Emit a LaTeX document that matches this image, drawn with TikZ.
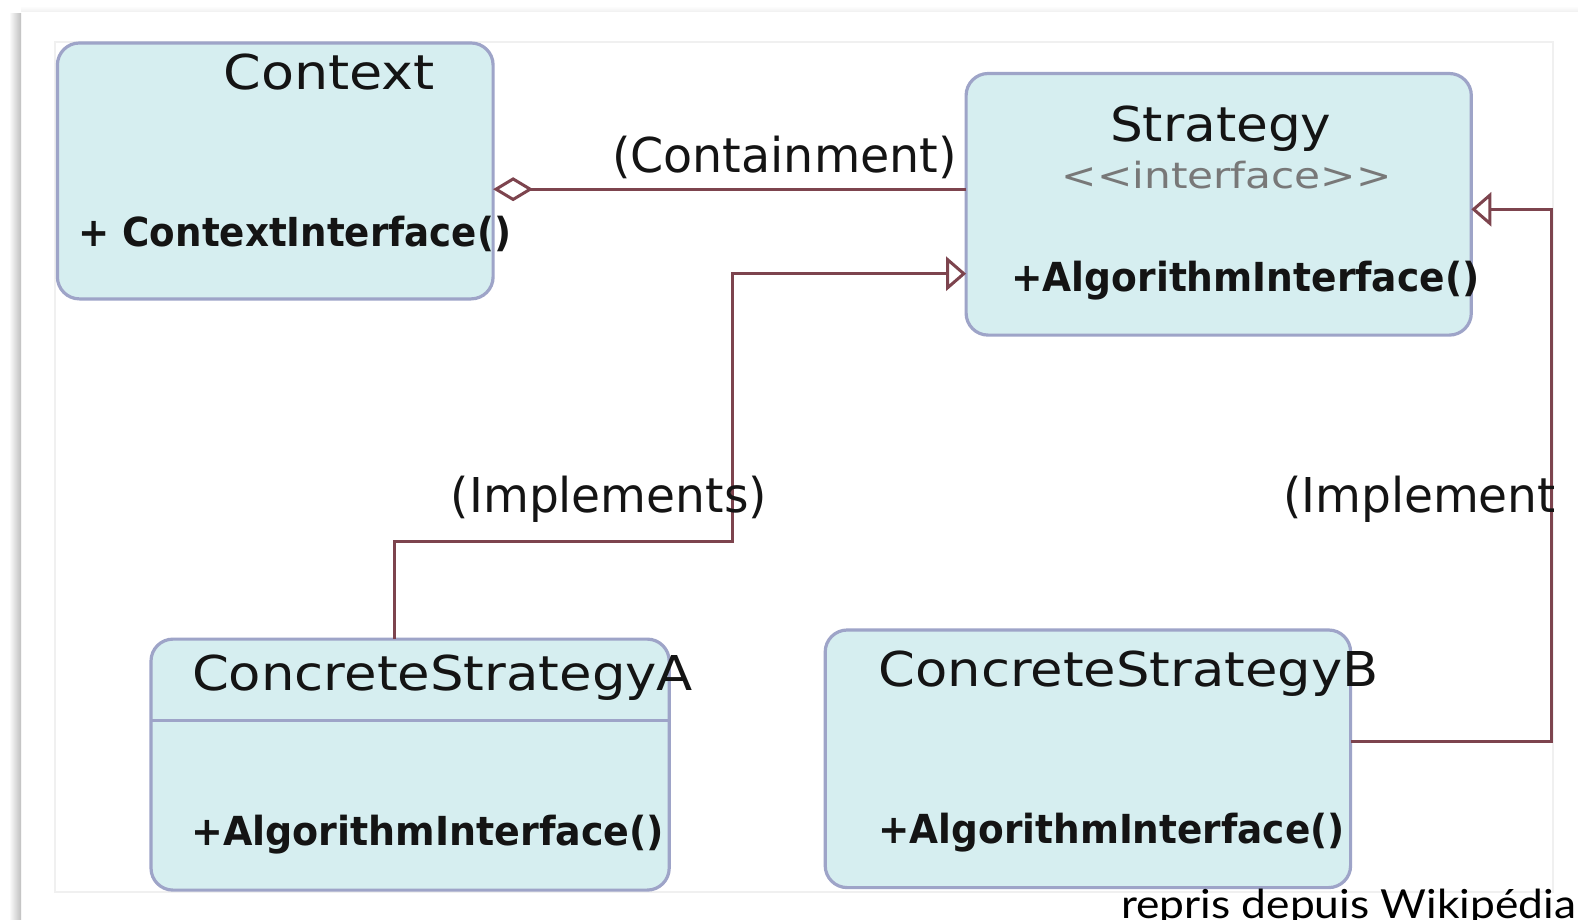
\documentclass[tikz,border=0pt]{standalone}
\usepackage{fontspec}
\setmainfont{DejaVu Sans}
\newfontfamily\latofont{Lato}
\usetikzlibrary{arrows.meta}
\definecolor{boxfill}{RGB}{214,238,240}
\definecolor{boxline}{RGB}{158,164,200}
\definecolor{conn}{RGB}{125,68,78}
\definecolor{stereo}{RGB}{120,120,120}
\definecolor{ink}{RGB}{20,20,20}
\newcommand{\fitw}[2]{\resizebox{#1pt}{\height}{#2}}
\newcommand{\fname}{\fontsize{48}{50}\selectfont}
\newcommand{\fmeth}{\fontsize{40}{44}\selectfont\bfseries}
\begin{document}
\begin{tikzpicture}[x=1pt,y=-1pt,
  classbox/.style={draw=boxline, fill=boxfill, line width=3.2pt, rounded corners=22pt,
    inner sep=0pt, outer sep=0pt, anchor=north west},
  txt/.style={inner sep=0pt, outer sep=0pt, anchor=base west, text=ink},
  sepline/.style={draw=boxline, line width=2.5pt},
  impl/.style={draw=conn, line width=3pt, -{Triangle[open, length=20pt, width=34pt]}},
  contain/.style={draw=conn, line width=3pt, -{Diamond[open, length=40pt, width=24pt]}},
  frameline/.style={draw=gray!12, line width=1.2pt}
]
\useasboundingbox (0,0) rectangle (1578,920);
\fill[white] (0,0) rectangle (1578,920);
% page shadow
\shade[left color=white, right color=gray!50] (9,14) rectangle (21,920);
\shade[top color=white, bottom color=gray!12] (21,6) rectangle (1578,12);
\draw[frameline] (55,42) rectangle (1553,892);

\begin{scope}
\clip (55,42) rectangle (1553,892);
% classes
\node[classbox, minimum width=435.7pt, minimum height=255.9pt] (ctx) at (57.4,43) {};
\node[classbox, minimum width=505.2pt, minimum height=261.6pt] (strat) at (966.1,73.5) {};
\node[classbox, minimum width=518.2pt, minimum height=251pt] (csa) at (151,639.1) {};
\node[classbox, minimum width=525.4pt, minimum height=257.6pt] (csb) at (825.2,630) {};
\draw[sepline] ([yshift=-81.5pt]csa.north west) -- ([yshift=-81.5pt]csa.north east);

% bend points
\coordinate (kA) at (732.6,541.4);
\coordinate (kB) at (1551.5,209.3);

% connectors
\draw[contain] ([yshift=15.1pt]strat.west) -- ([yshift=-18.25pt]ctx.east);
\draw[impl] ([xshift=-15.6pt]csa.north) |- (kA) |- ([yshift=-69.4pt]strat.west);
\draw[impl] ([yshift=17.1pt]csb.east) -| (kB) -- ([yshift=-5pt]strat.east);

% texts
\node[txt] (tctx) at (223.4,90) {\fname\fitw{211.4}{Context}};
\node[txt] (mctx) at (78.5,246) {\fmeth\fitw{432.7}{+ ContextInterface()}};
\node[txt] (lcont) at (612,173) {\fname\fitw{345}{(Containment)}};
\node[txt] (tstrat) at (1110,142) {\fname\fitw{221.4}{Strategy}};
\node[txt, text=stereo] (sstrat) at (1061.7,189) {\fontsize{36}{40}\selectfont\fitw{330}{<{}<interface>{}>}};
\node[txt] (mstrat) at (1011.4,291.7) {\fmeth\fitw{468}{+AlgorithmInterface()}};
\node[txt] (limplA) at (450.9,512) {\fname\fitw{316}{(Implements)}};
\node[txt] (limplB) at (1283.1,512) {\fname\fitw{316}{(Implements)}};
\node[txt] (tcsa) at (192,690) {\fname\fitw{501}{ConcreteStrategyA}};
\node[txt] (mcsa) at (191.2,845) {\fmeth\fitw{473}{+AlgorithmInterface()}};
\node[txt] (tcsb) at (878.6,686) {\fname\fitw{500}{ConcreteStrategyB}};
\node[txt] (mcsb) at (878.6,843) {\fmeth\fitw{466}{+AlgorithmInterface()}};
\end{scope}

\begin{scope}
\clip (0,0) rectangle (1578,920);
\node[txt, text=black] (credit) at (1121,918) {\latofont\fontsize{40}{42}\selectfont\fitw{455}{repris depuis Wikipédia}};
\end{scope}
\end{tikzpicture}
\end{document}
